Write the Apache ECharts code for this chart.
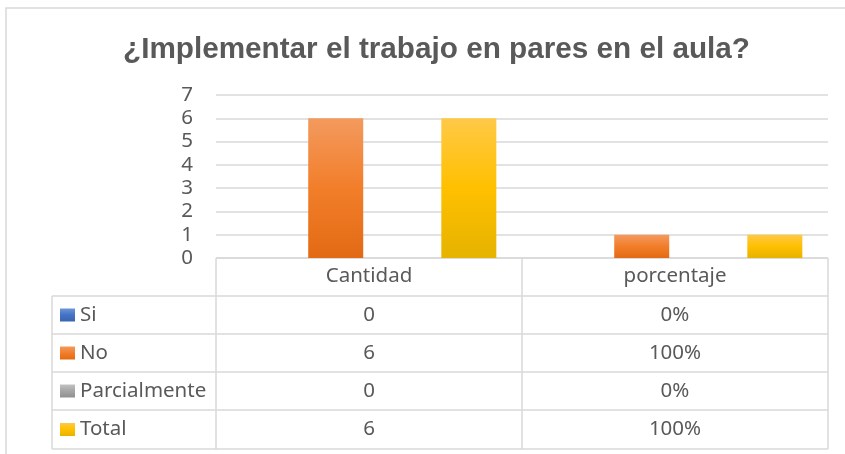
<!doctype html>
<html>
<head>
<meta charset="UTF-8">
<title>¿Implementar el trabajo en pares en el aula?</title>
<script src="https://cdn.jsdelivr.net/npm/echarts@6/dist/echarts.min.js"></script>
<style>
  html, body { margin: 0; padding: 0; background: #fff; }
  #main { width: 845px; height: 454px; }
</style>
</head>
<body>
<div id="main"></div>
<script>
// datos del grafico
var categories = ['Cantidad', 'porcentaje'];
var seriesNames = ['Si', 'No', 'Parcialmente', 'Total'];
var siValues = [0, 0];
var noValues = [6, 1];
var parcialValues = [0, 0];
var totalValues = [6, 1];
var yTicks = [0, 1, 2, 3, 4, 5, 6, 7];

var allValues = [siValues, noValues, parcialValues, totalValues];

function grad(top, mid, bottom) {
  return new echarts.graphic.LinearGradient(0, 0, 0, 1, [
    { offset: 0, color: top },
    { offset: 0.5, color: mid },
    { offset: 1, color: bottom }
  ]);
}
var colors = [
  ['#6A95DB', '#4472C4', '#3A64B0'],
  ['#F39A5E', '#F27E2A', '#E36A14'],
  ['#C2C2C2', '#A5A5A5', '#909090'],
  ['#FFC947', '#FFC000', '#E6B300']
];
var textColor = '#595959';
var lineColor = '#D9D9D9';
var font = '"Noto Sans", "Open Sans", sans-serif';
var fs = 20.5;

let myChart = echarts.init(document.getElementById('main'));

var series = seriesNames.map(function (name, i) {
  return {
    name: name,
    type: 'bar',
    data: allValues[i],
    barWidth: 55,
    barGap: '21%',
    itemStyle: {
      color: grad(colors[i][0], colors[i][1], colors[i][2]),
      shadowBlur: 7,
      shadowColor: 'rgba(0,0,0,0.35)'
    }
  };
});

var option = {
  animation: false,
  title: {
    text: '¿Implementar el trabajo en pares en el aula?',
    left: 118,
    top: 30,
    textStyle: {
      fontFamily: '"Liberation Sans", Arial, sans-serif',
      fontSize: 29.7,
      fontWeight: 'bold',
      color: textColor
    }
  },
  grid: { left: 216, right: 17, top: 95, bottom: 196 },
  xAxis: {
    type: 'category',
    data: categories,
    axisLine: { show: false },
    axisTick: { show: false },
    axisLabel: { margin: 8, fontSize: fs, color: textColor, fontFamily: font }
  },
  yAxis: {
    type: 'value',
    min: yTicks[0],
    max: yTicks[yTicks.length - 1],
    interval: 1,
    axisLabel: { margin: 23, fontSize: fs, color: textColor, fontFamily: font },
    splitLine: { lineStyle: { color: lineColor, width: 1.5 } }
  },
  series: series
};

myChart.setOption(option);

// tabla de datos debajo del eje
var c0 = myChart.convertToPixel({ xAxisIndex: 0 }, 0);
var c1 = myChart.convertToPixel({ xAxisIndex: 0 }, 1);
var colW = c1 - c0;
var xLeftAxis = c0 - colW / 2;
var xMid = c0 + colW / 2;
var xRight = c1 + colW / 2;
var tableLeft = 52;
var rowY = [258, 296, 334, 372, 410, 449];

var g = [];
g.push({ type: 'rect', shape: { x: 6, y: 8, width: 860, height: 470 },
  style: { fill: 'none', stroke: lineColor, lineWidth: 1.5 }, z: -1 });

function hline(x1, x2, y) {
  g.push({ type: 'line', shape: { x1: x1, y1: y, x2: x2, y2: y },
    style: { stroke: lineColor, lineWidth: 1.5 } });
}
function vline(x, y1, y2) {
  g.push({ type: 'line', shape: { x1: x, y1: y1, x2: x, y2: y2 },
    style: { stroke: lineColor, lineWidth: 1.5 } });
}
hline(xLeftAxis, xRight, rowY[0]);
for (var r = 1; r < rowY.length; r++) hline(tableLeft, xRight, rowY[r]);
vline(tableLeft, rowY[1], rowY[5]);
vline(xLeftAxis, rowY[0], rowY[5]);
vline(xMid, rowY[0], rowY[5]);
vline(xRight, rowY[0], rowY[5]);

seriesNames.forEach(function (name, i) {
  var yc = (rowY[i + 1] + rowY[i + 2]) / 2;
  g.push({ type: 'rect', shape: { x: 60, y: yc - 6.5, width: 15, height: 13 },
    style: { fill: grad(colors[i][0], colors[i][1], colors[i][2]) } });
  g.push({ type: 'text', x: 80, y: yc,
    style: { text: name, fill: textColor, font: fs + 'px ' + font, textVerticalAlign: 'middle' } });
  var vals = allValues[i];
  g.push({ type: 'text', x: c0, y: yc,
    style: { text: String(vals[0]), fill: textColor, font: fs + 'px ' + font,
      textAlign: 'center', textVerticalAlign: 'middle' } });
  g.push({ type: 'text', x: c1, y: yc,
    style: { text: Math.round(vals[1] * 100) + '%', fill: textColor, font: fs + 'px ' + font,
      textAlign: 'center', textVerticalAlign: 'middle' } });
});

myChart.setOption({ graphic: { elements: g } });
</script>
</body>
</html>
